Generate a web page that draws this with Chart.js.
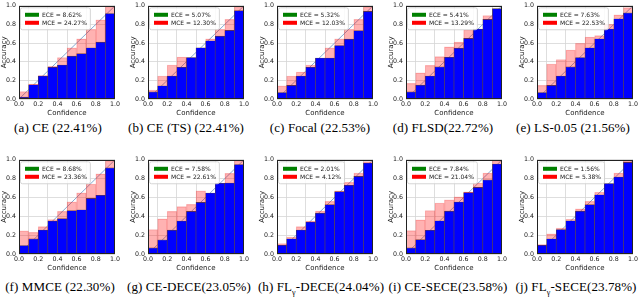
<!DOCTYPE html>
<html>
<head>
<meta charset="utf-8">
<script src="https://cdn.jsdelivr.net/npm/chart.js"></script>
<style>
body { margin:0; background:#fff; width:640px; height:307px; overflow:hidden; position:relative; }
canvas { position:absolute; }
.cap { position:absolute; width:170px; text-align:center; font-family:"Liberation Serif", serif; font-size:13px; letter-spacing:0.1px; line-height:13px; color:#000; white-space:nowrap; }
.cap sub { font-size:8px; line-height:0; }
</style>
</head>
<body>
<script>
// bin centres of the 10 confidence bins
var bins = [0.05, 0.15, 0.25, 0.35, 0.45, 0.55, 0.65, 0.75, 0.85, 0.95];

// blue bar tops and pink (gap) tops, one pair per panel
var barA = [0.02, 0.153, 0.247, 0.34, 0.365, 0.46, 0.486, 0.55, 0.61, 0.917];
var gapA = [0.08, 0.16, 0.25, 0.35, 0.445, 0.55, 0.645, 0.747, 0.85, 0.993];
var barB = [0.076, 0.142, 0.247, 0.34, 0.445, 0.55, 0.625, 0.674, 0.736, 0.948];
var gapB = [0.097, 0.247, 0.365, 0.45, 0.445, 0.55, 0.645, 0.747, 0.854, 0.993];
var barC = [0.07, 0.146, 0.247, 0.34, 0.44, 0.44, 0.573, 0.642, 0.733, 0.94];
var gapC = [0.142, 0.247, 0.288, 0.365, 0.44, 0.55, 0.646, 0.747, 0.854, 0.986];
var barD = [0.076, 0.149, 0.247, 0.344, 0.448, 0.545, 0.65, 0.75, 0.854, 0.969];
var gapD = [0.167, 0.28, 0.36, 0.455, 0.56, 0.61, 0.743, 0.75, 0.896, 0.969];
var barE = [0.07, 0.146, 0.247, 0.344, 0.445, 0.55, 0.646, 0.75, 0.86, 0.924];
var gapE = [0.146, 0.375, 0.424, 0.524, 0.597, 0.663, 0.68, 0.8, 0.903, 0.98];
var barF = [0.09, 0.16, 0.255, 0.35, 0.375, 0.46, 0.47, 0.59, 0.623, 0.914];
var gapF = [0.247, 0.23, 0.29, 0.366, 0.452, 0.555, 0.65, 0.743, 0.85, 0.986];
var barG = [0.065, 0.15, 0.253, 0.35, 0.452, 0.548, 0.647, 0.75, 0.753, 0.949];
var gapG = [0.26, 0.373, 0.452, 0.503, 0.527, 0.671, 0.647, 0.75, 0.856, 0.993];
var barH = [0.093, 0.162, 0.255, 0.34, 0.434, 0.524, 0.662, 0.73, 0.824, 0.966];
var gapH = [0.11, 0.18, 0.29, 0.35, 0.455, 0.559, 0.67, 0.76, 0.86, 0.98];
var barI = [0.065, 0.152, 0.252, 0.352, 0.455, 0.552, 0.652, 0.707, 0.786, 0.955];
var gapI = [0.248, 0.362, 0.462, 0.541, 0.576, 0.607, 0.659, 0.752, 0.859, 0.993];
var barJ = [0.093, 0.162, 0.259, 0.352, 0.455, 0.524, 0.628, 0.748, 0.817, 0.972];
var gapJ = [0.1, 0.214, 0.276, 0.369, 0.479, 0.559, 0.655, 0.748, 0.859, 0.993];

var eceValues = ["8.62%", "5.07%", "5.32%", "5.41%", "7.63%", "8.68%", "7.58%", "2.01%", "7.84%", "1.56%"];
var mceValues = ["24.27%", "12.30%", "12.03%", "13.29%", "22.53%", "23.36%", "22.61%", "4.12%", "21.04%", "5.38%"];
var captions = ["(a) CE (22.41%)", "(b) CE (TS) (22.41%)", "(c) Focal (22.53%)", "(d) FLSD(22.72%)",
  "(e) LS-0.05 (21.56%)", "(f) MMCE (22.30%)", "(g) CE-DECE(23.05%)", "(h) FL<sub>γ</sub>-DECE(24.04%)",
  "(i) CE-SECE(23.58%)", "(j) FL<sub>γ</sub>-SECE(23.78%)"];

var allBars = [barA, barB, barC, barD, barE, barF, barG, barH, barI, barJ];
var allGaps = [gapA, gapB, gapC, gapD, gapE, gapF, gapG, gapH, gapI, gapJ];

// page layout of the plot areas
var plotLeft = [19, 148, 277, 406, 537];
var plotTop = [3, 157];
var plotH = [96, 97];
var plotW = 96;
var capCenter = [[58, 186, 320, 443, 573], [60, 189, 321, 448, 576]];
var capTop = [121, 280];

var axisFont = "DejaVu Sans";

// black box round the plot, then the ECE / MCE legend on top of the bars
var framePlugin = {
  id: 'frame',
  afterDatasetsDraw: function(chart, args, opts) {
    var a = chart.chartArea, ctx = chart.ctx;
    ctx.save();
    ctx.strokeStyle = '#222';
    ctx.lineWidth = 1;
    ctx.strokeRect(Math.round(a.left) + 0.5, Math.round(a.top) + 0.5,
      Math.round(a.right - a.left) - 1, Math.round(a.bottom - a.top) - 1);

    var items = opts.items;
    ctx.font = '6px "' + axisFont + '"';
    var tw = 0;
    for (var i = 0; i < items.length; i++) tw = Math.max(tw, ctx.measureText(items[i].text).width);
    var bx = a.left + 1.5, by = a.top + 2;
    var textX = bx + 21.5;
    ctx.fillStyle = 'rgba(255,255,255,0.85)';
    ctx.strokeStyle = '#cccccc';
    ctx.lineWidth = 0.8;
    ctx.beginPath();
    ctx.roundRect(bx, by, textX + tw + 3.5 - bx, 22, 2);
    ctx.fill();
    ctx.stroke();
    ctx.textBaseline = 'middle';
    for (var j = 0; j < items.length; j++) {
      var cy = by + 7 + j * 8;
      ctx.fillStyle = items[j].color;
      ctx.fillRect(bx + 4.5, cy - 2, 14, 4);
      ctx.fillStyle = '#1a1a1a';
      ctx.fillText(items[j].text, textX, cy + 0.3);
    }
    ctx.restore();
  }
};

function makePanel(k) {
  var row = Math.floor(k / 5), col = k % 5;
  var L = plotLeft[col], T = plotTop[row], H = plotH[row];
  var bars = allBars[k], gaps = allGaps[k];

  var cv = document.createElement('canvas');
  cv.width = 19 + plotW + 8;
  cv.height = 4 + H + 18;
  cv.style.left = (L - 19) + 'px';
  cv.style.top = (T - 4) + 'px';
  document.body.appendChild(cv);

  var cap = document.createElement('div');
  cap.className = 'cap';
  cap.innerHTML = captions[k];
  cap.style.left = (capCenter[row][col] - 85) + 'px';
  cap.style.top = capTop[row] + 'px';
  document.body.appendChild(cap);

  var blueData = [], pinkData = [];
  for (var i = 0; i < bins.length; i++) {
    blueData.push({x: bins[i], y: bars[i]});
    pinkData.push({x: bins[i], y: [bars[i], gaps[i]]});
  }

  new Chart(cv.getContext('2d'), {
    type: 'bar',
    data: {
      datasets: [
        {type: 'line', data: [{x: 0, y: 0}, {x: 1, y: 1}], borderColor: '#86a9cf', borderWidth: 1,
          pointRadius: 0, order: 3},
        {data: blueData, backgroundColor: '#0000ff', borderColor: '#5a4038', borderWidth: 0.6,
          grouped: false, categoryPercentage: 1, barPercentage: 1, order: 2},
        {data: pinkData, backgroundColor: 'rgba(255,0,0,0.3)', borderColor: 'rgba(230,60,60,0.25)', borderWidth: 0.5,
          grouped: false, categoryPercentage: 1, barPercentage: 1, order: 1}
      ]
    },
    options: {
      responsive: false,
      animation: false,
      devicePixelRatio: 1,
      layout: {padding: {left: 0, top: 4, right: 8, bottom: 0}},
      plugins: {
        tooltip: {enabled: false},
        legend: {display: false},
        frame: {
          items: [
            {text: 'ECE = ' + eceValues[k], color: '#008000'},
            {text: 'MCE = ' + mceValues[k], color: '#ff0000'}
          ]
        }
      },
      scales: {
        x: {
          type: 'linear', min: 0, max: 1, offset: false,
          afterFit: function(s) { s.height = 18; },
          border: {display: false},
          grid: {color: '#d6d6d6', lineWidth: 0.8, drawTicks: false},
          ticks: {stepSize: 0.2, autoSkip: false, maxRotation: 0, padding: 2, color: '#1a1a1a',
            font: {family: axisFont, size: 6.3}, callback: function(v) { return v.toFixed(1); }},
          title: {display: true, text: 'Confidence', color: '#1a1a1a', padding: 0,
            font: {family: axisFont, size: 7}}
        },
        y: {
          min: 0, max: 1,
          afterFit: function(s) { s.width = 19; },
          border: {display: false},
          grid: {color: '#d6d6d6', lineWidth: 0.8, drawTicks: false},
          ticks: {stepSize: 0.2, autoSkip: false, padding: 3, color: '#1a1a1a',
            font: {family: axisFont, size: 6.3}, callback: function(v) { return v.toFixed(1); }},
          title: {display: true, text: 'Accuracy', color: '#1a1a1a', padding: 0,
            font: {family: axisFont, size: 7}}
        }
      }
    },
    plugins: [framePlugin]
  });
}

for (var p = 0; p < 10; p++) makePanel(p);
</script>
</body>
</html>
